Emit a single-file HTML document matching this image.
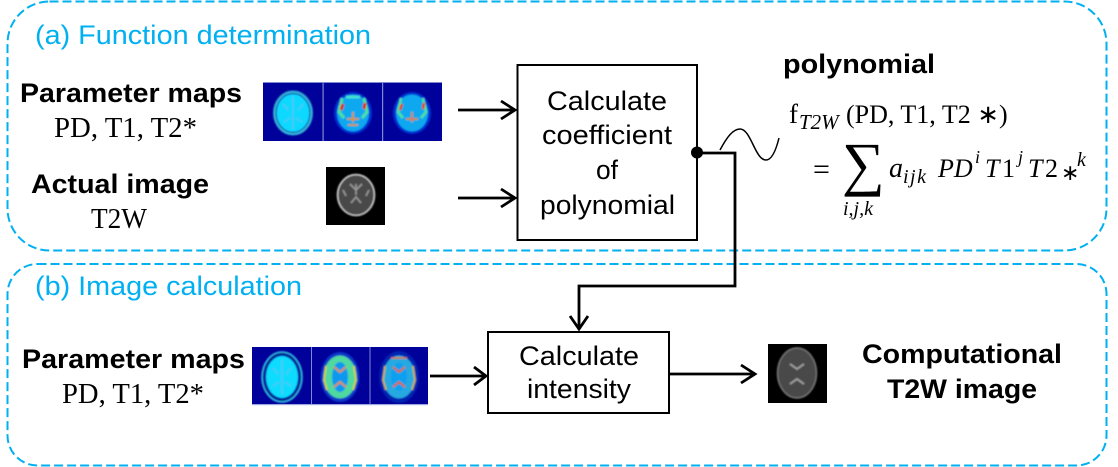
<!DOCTYPE html>
<html><head><meta charset="utf-8"><style>
html,body{margin:0;padding:0;background:#fff}
svg{display:block}
.s{font-family:"Liberation Sans",sans-serif}
.r{font-family:"Liberation Serif",serif}
.b{font-weight:bold}
</style></head><body>
<svg width="1118" height="467" viewBox="0 0 1118 467" xmlns="http://www.w3.org/2000/svg">
<defs>
<filter id="bl" x="-20%" y="-20%" width="140%" height="140%"><feGaussianBlur stdDeviation="0.7"/></filter>
</defs>
<rect x="7.5" y="1.5" width="1099" height="249" rx="42" fill="none" stroke="#00b0f0" stroke-width="2" stroke-dasharray="9 4"/>
<rect x="7.5" y="264" width="1099" height="201.5" rx="30" fill="none" stroke="#00b0f0" stroke-width="2" stroke-dasharray="9 4"/>

<g class="s" font-size="27" fill="#00b0f0">
<text x="35" y="44" textLength="336" lengthAdjust="spacingAndGlyphs">(a) Function determination</text>
<text x="35" y="295" textLength="267" lengthAdjust="spacingAndGlyphs">(b) Image calculation</text>
</g>

<g class="s b" font-size="27" fill="#000">
<text x="20" y="102" textLength="222" lengthAdjust="spacingAndGlyphs">Parameter maps</text>
<text x="31" y="193" textLength="178" lengthAdjust="spacingAndGlyphs">Actual image</text>
<text x="22" y="368" textLength="223" lengthAdjust="spacingAndGlyphs">Parameter maps</text>
<text x="862" y="363" textLength="200" lengthAdjust="spacingAndGlyphs">Computational</text>
<text x="887" y="398" textLength="150" lengthAdjust="spacingAndGlyphs">T2W image</text>
</g>
<g class="r" font-size="28" fill="#000">
<text x="54" y="137" textLength="143" lengthAdjust="spacingAndGlyphs">PD, T1, T2*</text>
<text x="91" y="228" textLength="56" lengthAdjust="spacingAndGlyphs">T2W</text>
<text x="62" y="403" textLength="142" lengthAdjust="spacingAndGlyphs">PD, T1, T2*</text>
</g>

<!-- top maps -->
<g>
<rect x="263" y="82" width="179" height="59" fill="#00009a"/>
<g filter="url(#bl)">
<ellipse cx="293" cy="113" rx="19.5" ry="22" fill="#40c8d8" stroke="#2090d0" stroke-width="1.2"/>
<ellipse cx="293" cy="113" rx="17" ry="19.5" fill="#10d8ff" stroke="#0040b0" stroke-width="1.2"/>
<path d="M293 97v32M283 104l5 6M303 104l-5 6M284 122l6-4M302 122l-6-4" stroke="#50c4f4" stroke-width="1.6" fill="none"/>

<ellipse cx="353" cy="113" rx="19" ry="21" fill="#0030d0"/>
<ellipse cx="353" cy="113" rx="16" ry="18.5" fill="#10a8f0"/>
<path d="M342 98l-3 14 5 6M364 98l3 14-5 6" stroke="#50e0a0" stroke-width="3" fill="none"/>
<path d="M343 104l-2 6M365 103l-1 6" stroke="#e02010" stroke-width="3" fill="none"/>
<path d="M347 119h12M353 112v10M348 125h10" stroke="#e09020" stroke-width="1.8" fill="none"/>
<path d="M346 97h14" stroke="#40e0d0" stroke-width="3"/>

<ellipse cx="412" cy="113" rx="19" ry="21" fill="#0030d0"/>
<ellipse cx="412" cy="113" rx="16" ry="18.5" fill="#10a8f0"/>
<path d="M401 98l-3 14 5 6M423 98l3 14-5 6" stroke="#50e0a0" stroke-width="2.6" fill="none"/>
<path d="M402 104l-2 6M424 103l-1 6" stroke="#e04010" stroke-width="2.6" fill="none"/>
<path d="M406 119h12M412 112v10" stroke="#e08020" stroke-width="1.8" fill="none"/>
</g>
<rect x="322.5" y="82" width="1.2" height="59" fill="#8088d0"/>
<rect x="382" y="82" width="1.2" height="59" fill="#8088d0"/>
<rect x="263" y="82" width="179" height="1" fill="#8088d0"/>
</g>
<!-- actual image -->
<rect x="326" y="167" width="59" height="58" fill="#000"/>
<g filter="url(#bl)">
<ellipse cx="356" cy="195" rx="18.5" ry="20.5" fill="#4a4a4a" stroke="#ccc" stroke-width="1.6"/>
<path d="M356 184v11M350 184l6 6 6-6M351 203l5-6 5 6M343 190l3 6M369 190l-3 6" stroke="#999" stroke-width="1.6" fill="none"/>
</g>

<!-- bottom maps -->
<g>
<rect x="252" y="347" width="176" height="58" fill="#00009a"/>
<g filter="url(#bl)">
<ellipse cx="282" cy="377" rx="20" ry="25" fill="#00209a" stroke="#30c0e0" stroke-width="1.6"/>
<ellipse cx="282" cy="377" rx="16" ry="21" fill="#10dcff"/>
<path d="M282 360v34M273 368l5 6M291 368l-5 6M273 386l6-4M291 386l-6-4" stroke="#50c4f4" stroke-width="1.6" fill="none"/>

<ellipse cx="340" cy="377" rx="19.5" ry="25" fill="#0838c8"/>
<ellipse cx="340" cy="377" rx="16.5" ry="21.5" fill="#50d8a0"/>
<ellipse cx="340" cy="377" rx="8" ry="15" fill="#1098f0"/>
<path d="M334 367l6 5 6-5M334 387l6-5 6 5" stroke="#e09030" stroke-width="2" fill="none"/>
<path d="M326 366l-2 14 3 10M354 366l2 14-3 10" stroke="#d0d040" stroke-width="2" fill="none"/>

<ellipse cx="399" cy="377" rx="20" ry="26" fill="#0020b0"/>
<ellipse cx="399" cy="377" rx="16" ry="21.5" fill="#28a8e0"/>
<ellipse cx="399" cy="377" rx="8" ry="14" fill="#10a0f0"/>
<path d="M393 367l6 5 6-5M393 387l6-5 6 5" stroke="#e06030" stroke-width="2" fill="none"/>
<path d="M385 366l-2 14 3 10M413 366l2 14-3 10" stroke="#d0b040" stroke-width="1.8" fill="none"/>
<path d="M391 358h16" stroke="#e07020" stroke-width="1.6"/>
</g>
<rect x="311" y="347" width="1" height="58" fill="#8088d0"/>
<rect x="369.5" y="347" width="1" height="58" fill="#8088d0"/>
<rect x="252" y="404" width="176" height="1.2" fill="#a0a8e0"/>
</g>
<!-- computed image -->
<rect x="768" y="344" width="59" height="59" fill="#000"/>
<g filter="url(#bl)">
<ellipse cx="797" cy="373" rx="19.5" ry="25" fill="#4a4a4a" stroke="#777" stroke-width="1.5"/>
<path d="M790 364l7 5 7-5M790 384l7-5 7 5" stroke="#a0a0a0" stroke-width="1.8" fill="none"/>
</g>

<!-- boxes -->
<rect x="517.5" y="65" width="179.5" height="175" fill="#fff" stroke="#000" stroke-width="2"/>
<g class="s" font-size="27" fill="#000">
<text x="547" y="110" textLength="120" lengthAdjust="spacingAndGlyphs">Calculate</text>
<text x="542" y="144" textLength="130" lengthAdjust="spacingAndGlyphs">coefficient</text>
<text x="596" y="179" textLength="22" lengthAdjust="spacingAndGlyphs">of</text>
<text x="540" y="214" textLength="135" lengthAdjust="spacingAndGlyphs">polynomial</text>
</g>
<rect x="488" y="332" width="181" height="81" fill="#fff" stroke="#000" stroke-width="2"/>
<g class="s" font-size="27" fill="#000">
<text x="519" y="365" textLength="120" lengthAdjust="spacingAndGlyphs">Calculate</text>
<text x="527" y="398" textLength="104" lengthAdjust="spacingAndGlyphs">intensity</text>
</g>

<!-- connectors -->
<g fill="none" stroke="#000" stroke-width="2.8">
<path d="M458 110H515M501 101l14 9-14 9"/>
<path d="M458 198H515M501 189l14 9-14 9"/>
<path d="M697 153H735V286H579V329"/>
<path d="M570 316l9 13 9-13"/>
<path d="M430 376H486M474 367l12 9-12 9"/>
<path d="M669 374H755M741 365l14 9-14 9"/>
</g>
<circle cx="697" cy="152.500" r="6" fill="#000"/>
<path d="M720 150C727 137 733 129 740 129C751 129 755 160 766 160C772 160 776 150 779 138" fill="none" stroke="#000" stroke-width="1.5"/>

<!-- formula -->
<text class="s b" x="783" y="73" font-size="27" textLength="152" lengthAdjust="spacingAndGlyphs" fill="#000">polynomial</text>
<g class="r" fill="#000">
<text x="789" y="123" font-size="27">f</text>
<text x="799" y="129" font-size="21" font-style="italic">T2W</text>
<text x="846" y="123" font-size="26">(PD, T1, T2 ∗)</text>
<text x="813" y="179" font-size="30">=</text>
<text x="842" y="184" font-size="60">∑</text>
<text x="843" y="215" font-size="20" font-style="italic">i,j,k</text>
<text x="889" y="177" font-size="28" font-style="italic">a</text>
<text x="903" y="183" font-size="20" font-style="italic" letter-spacing="1.5">ijk</text>
<text x="938" y="177" font-size="26" font-style="italic">PD</text>
<text x="975" y="163" font-size="18" font-style="italic">i</text>
<text x="985" y="177" font-size="26" font-style="italic">T</text>
<text x="1002" y="177" font-size="26">1</text>
<text x="1018" y="163" font-size="18" font-style="italic">j</text>
<text x="1028" y="177" font-size="26" font-style="italic">T</text>
<text x="1045" y="177" font-size="26">2</text>
<text x="1061" y="180" font-size="22">∗</text>
<text x="1077" y="166" font-size="20" font-style="italic">k</text>
</g>
</svg>
</body></html>
